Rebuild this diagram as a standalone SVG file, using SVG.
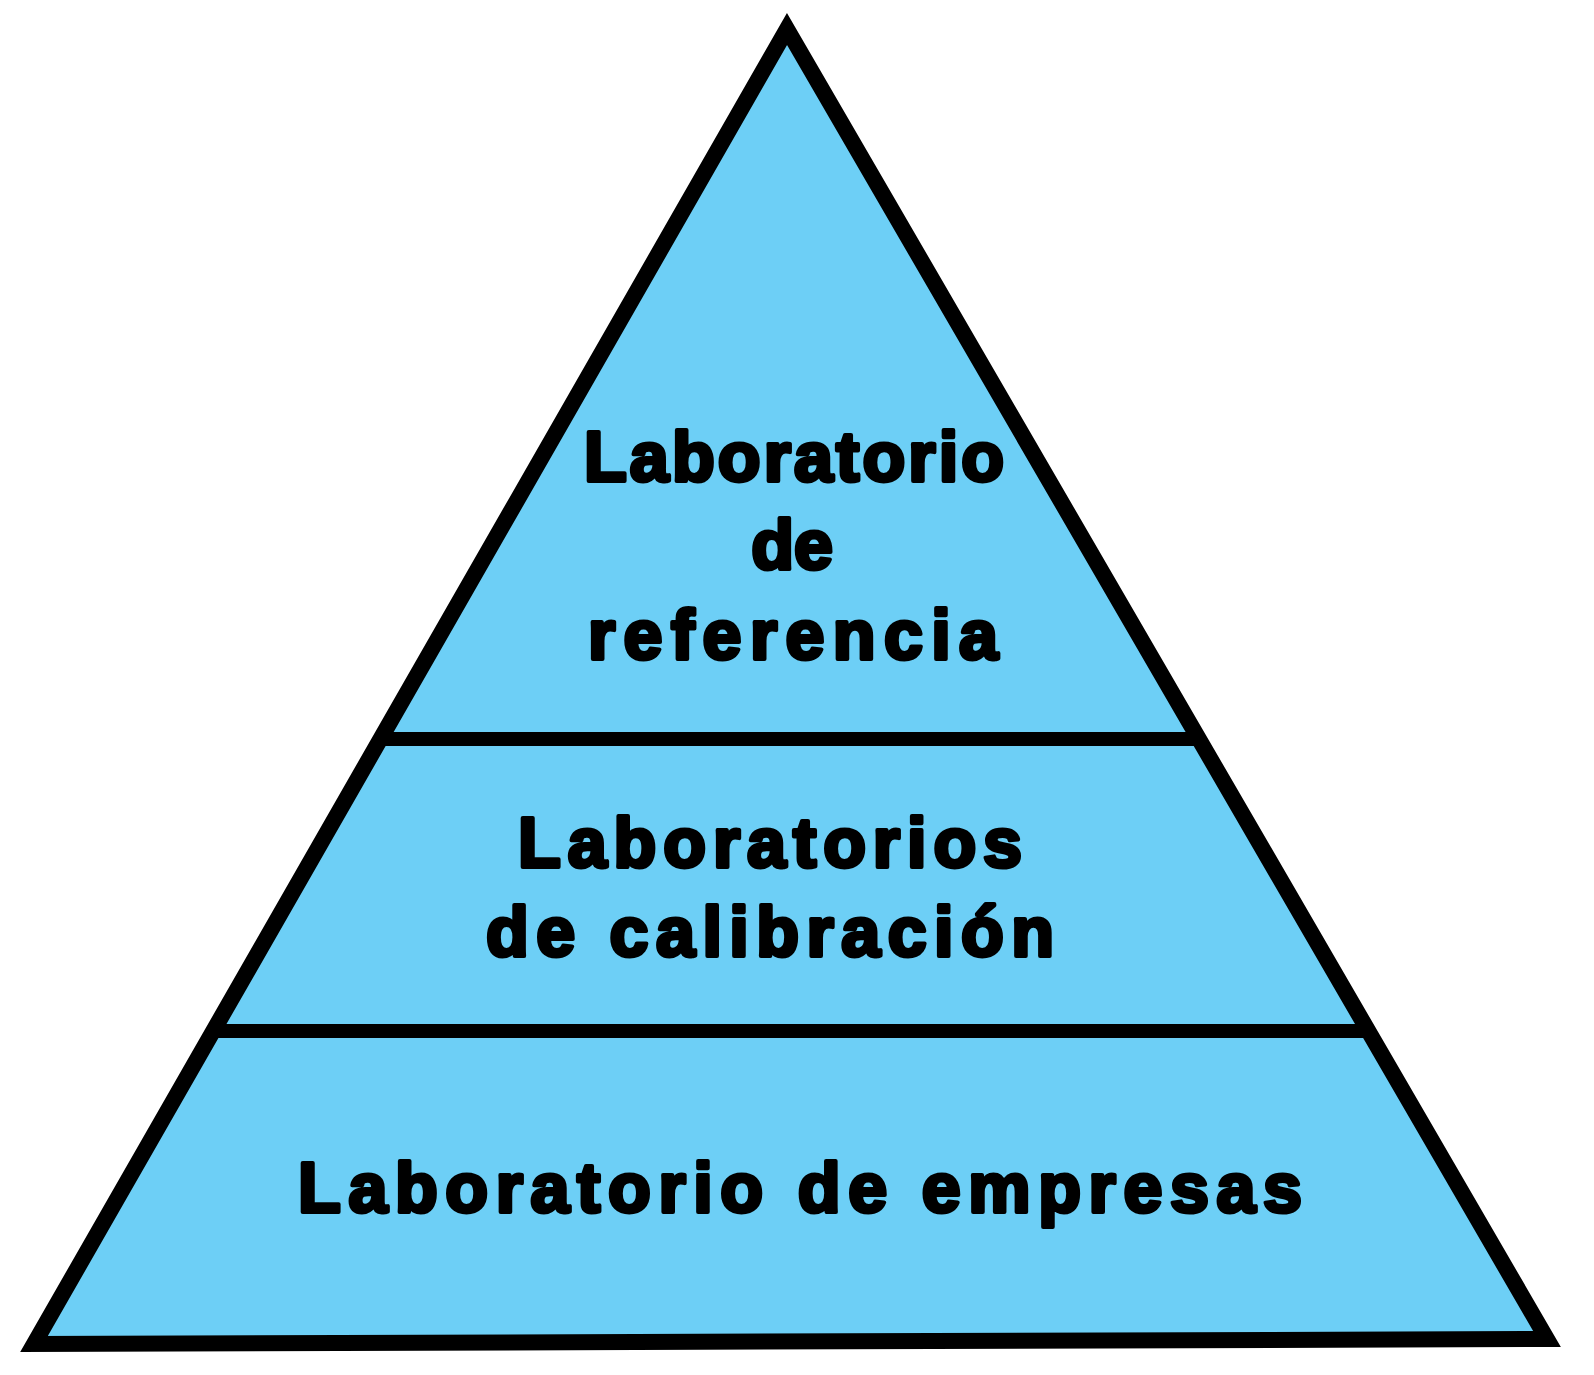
<svg xmlns="http://www.w3.org/2000/svg" width="1594" height="1375" viewBox="0 0 1594 1375">
<style>
.lbl{font-family:"Liberation Sans",Arial,sans-serif;font-weight:bold;font-size:70px;fill:#000;stroke:#000;stroke-width:4;stroke-linejoin:round;text-anchor:middle}
.band{stroke:#000;stroke-width:14;fill:none}
</style>
<rect width="1594" height="1375" fill="#fff"/>
<g id="pyramid">
<polygon points="787,29 34,1344 1547,1339" fill="#6dcff6" stroke="#000" stroke-width="16" stroke-linejoin="miter" stroke-miterlimit="10"/>
</g>
<g id="connectors">
<line class="band" x1="380" y1="739" x2="1196" y2="739"/>
<line class="band" x1="214" y1="1031" x2="1364" y2="1031"/>
</g>
<g id="top">
<text class="lbl" x="794" y="481" textLength="420" lengthAdjust="spacing">Laboratorio</text>
<text class="lbl" x="792" y="569">de</text>
<text class="lbl" x="793" y="659" textLength="410" lengthAdjust="spacing">referencia</text>
</g>
<g id="middle">
<text class="lbl" x="770" y="867" textLength="504" lengthAdjust="spacing">Laboratorios</text>
<text class="lbl" x="770" y="956" textLength="568" lengthAdjust="spacing">de calibración</text>
</g>
<g id="bottom">
<text class="lbl" x="800" y="1212" textLength="1004" lengthAdjust="spacing">Laboratorio de empresas</text>
</g>
</svg>
